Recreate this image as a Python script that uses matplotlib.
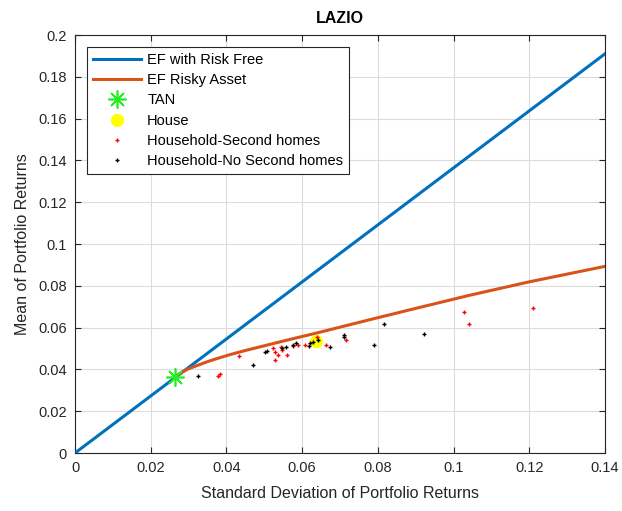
import matplotlib
matplotlib.use("Agg")
import matplotlib.pyplot as plt
from matplotlib.ticker import FormatStrFormatter

plt.rcParams['font.family'] = ['Liberation Sans', 'DejaVu Sans']

# Capital market line (risk-free rate 0) end points
cml_sigma = [0.0, 0.14]
cml_mu = [0.0, 0.191]

# Efficient frontier of risky assets
ef_sigma = [0.0264, 0.0280, 0.0300, 0.0326, 0.0350, 0.0370, 0.0410, 0.0449,
            0.0500, 0.0560, 0.0647, 0.0779, 0.0900, 0.1043, 0.1200, 0.1400]
ef_mu = [0.0365, 0.0384, 0.0403, 0.0421, 0.0437, 0.0449, 0.0471, 0.0490,
         0.0513, 0.0540, 0.0578, 0.0638, 0.0692, 0.0755, 0.0819, 0.0893]

# Tangency portfolio and house
tan_sigma, tan_mu = 0.0265, 0.0362
house_sigma, house_mu = 0.0637, 0.0537

# Households with second homes
second_sigma = [0.0379, 0.0384, 0.0433, 0.0524, 0.0528, 0.0537, 0.0528, 0.0543,
                0.0548, 0.0559, 0.0577, 0.0590, 0.0608, 0.0640, 0.0663, 0.0715,
                0.1027, 0.1041, 0.1209]
second_mu = [0.0370, 0.0380, 0.0466, 0.0501, 0.0482, 0.0469, 0.0446, 0.0506,
             0.0493, 0.0469, 0.0512, 0.0517, 0.0517, 0.0557, 0.0517, 0.0541,
             0.0675, 0.0616, 0.0692]

# Households without second homes
nosecond_sigma = [0.0324, 0.0469, 0.0502, 0.0508, 0.0546, 0.0557, 0.0575, 0.0585,
                  0.0617, 0.0621, 0.0628, 0.0641, 0.0674, 0.0711, 0.0711, 0.0789,
                  0.0815, 0.0922]
nosecond_mu = [0.0370, 0.0423, 0.0482, 0.0487, 0.0501, 0.0506, 0.0515, 0.0525,
               0.0512, 0.0525, 0.0531, 0.0541, 0.0506, 0.0563, 0.0553, 0.0517,
               0.0616, 0.0569]

x_ticks = [0, 0.02, 0.04, 0.06, 0.08, 0.1, 0.12, 0.14]
y_ticks = [0, 0.02, 0.04, 0.06, 0.08, 0.1, 0.12, 0.14, 0.16, 0.18, 0.2]

BLUE = '#0072BD'
ORANGE = '#D95319'
AX_COL = '#262626'

fig = plt.figure(figsize=(6.22, 5.11), dpi=100)
ax = fig.add_axes([75 / 622, 1 - 453 / 511, 530 / 622, 418 / 511])

ax.plot(cml_sigma, cml_mu, color=BLUE, lw=2.2, label='EF with Risk Free', zorder=3)
ax.plot(ef_sigma, ef_mu, color=ORANGE, lw=2.2, label='EF Risky Asset', zorder=3,
        solid_joinstyle='round')
ax.plot([tan_sigma], [tan_mu], linestyle='none', marker=(8, 2, 0), ms=13, mew=1.2,
        color='#22EE22', label='TAN', zorder=5)
ax.plot([house_sigma], [house_mu], linestyle='none', marker='o', ms=8.5,
        color='#FFFF00', mec='#FFFF00', label='House', zorder=4)
ax.plot(second_sigma, second_mu, linestyle='none', marker='+', ms=3.4, mew=1.0,
        color='#FF0000', label='Household-Second homes', zorder=6)
ax.plot(nosecond_sigma, nosecond_mu, linestyle='none', marker='+', ms=3.4, mew=1.0,
        color='#000000', label='Household-No Second homes', zorder=6)

ax.set_xlim(0, 0.14)
ax.set_ylim(0, 0.2)
ax.set_xticks(x_ticks)
ax.set_yticks(y_ticks)
ax.xaxis.set_major_formatter(FormatStrFormatter('%g'))
ax.yaxis.set_major_formatter(FormatStrFormatter('%g'))

ax.grid(True, color='#DCDCDC', lw=0.8)
ax.set_axisbelow(True)
ax.tick_params(direction='in', top=True, right=True, length=4, width=0.8,
               colors=AX_COL, labelsize=10.5, pad=6)
for s in ax.spines.values():
    s.set_color(AX_COL)
    s.set_linewidth(0.8)

ax.set_xlabel('Standard Deviation of Portfolio Returns', fontsize=11.5, color=AX_COL, labelpad=8)
ax.set_ylabel('Mean of Portfolio Returns', fontsize=11.5, color=AX_COL, labelpad=6)
ax.set_title('LAZIO', fontsize=11.5, fontweight='bold', color='#000000', pad=9)

leg = ax.legend(loc='upper left', bbox_to_anchor=(0.0, 1.0), borderaxespad=0.85,
                fontsize=10.5, handlelength=3.3, handletextpad=0.4, labelspacing=0.42,
                fancybox=False, framealpha=1, edgecolor=AX_COL, borderpad=0.4)
leg.get_frame().set_linewidth(0.8)

fig.savefig('out.png', dpi=100)
